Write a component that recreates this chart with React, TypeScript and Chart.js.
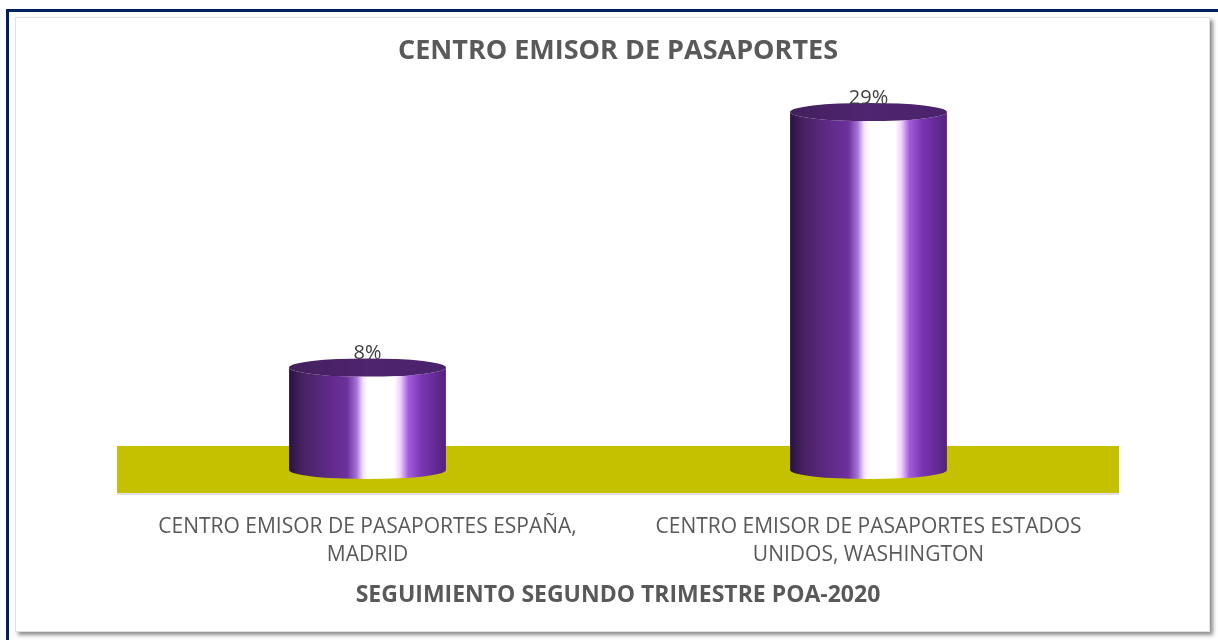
import React, { useEffect, useRef } from "react";
import { Chart, registerables } from "chart.js";

Chart.register(...registerables);

const chartTitle = "CENTRO EMISOR DE PASAPORTES";
const axisTitle = "SEGUIMIENTO SEGUNDO TRIMESTRE POA-2020";
const categories: string[][] = [
  ["CENTRO EMISOR DE PASAPORTES ESPAÑA,", "MADRID"],
  ["CENTRO EMISOR DE PASAPORTES ESTADOS", "UNIDOS, WASHINGTON"],
];
const values: number[] = [8.3, 29];
const valueLabels: string[] = ["8%", "29%"];

const FONT = "'Open Sans', sans-serif";

const cylinderPlugin = {
  id: "cylinders",
  beforeDatasetsDraw(chart: any) {
    const { ctx, chartArea } = chart;
    const yz = chart.scales.y.getPixelForValue(0);
    ctx.save();
    ctx.fillStyle = "rgba(0,0,0,0.12)";
    ctx.fillRect(chartArea.left, yz + 23, chartArea.right - chartArea.left, 2);
    ctx.fillStyle = "#c4c100";
    ctx.fillRect(chartArea.left, yz - 24, chartArea.right - chartArea.left, 47);
    ctx.restore();
  },
  afterDatasetsDraw(chart: any) {
    const { ctx } = chart;
    const meta = chart.getDatasetMeta(0);
    meta.data.forEach((bar: any, i: number) => {
      const { x, y, base, width } = bar.getProps(["x", "y", "base", "width"], true);
      const left = x - width / 2;
      const right = x + width / 2;
      const rx = width / 2;
      const ry = width * 0.058;
      ctx.save();
      const g = ctx.createLinearGradient(left, 0, right, 0);
      g.addColorStop(0, "#2a1342");
      g.addColorStop(0.08, "#47215f");
      g.addColorStop(0.25, "#5e2a88");
      g.addColorStop(0.37, "#6d309c");
      g.addColorStop(0.43, "#a373d6");
      g.addColorStop(0.47, "#f2dcff");
      g.addColorStop(0.5, "#ffffff");
      g.addColorStop(0.67, "#ffffff");
      g.addColorStop(0.71, "#f0cfff");
      g.addColorStop(0.76, "#a35ddb");
      g.addColorStop(0.84, "#7a36b4");
      g.addColorStop(1, "#55217e");
      ctx.beginPath();
      ctx.moveTo(left, y);
      ctx.lineTo(left, base);
      ctx.ellipse(x, base, rx, ry, 0, Math.PI, 0, true);
      ctx.lineTo(right, y);
      ctx.ellipse(x, y, rx, ry, 0, 0, Math.PI, false);
      ctx.closePath();
      ctx.fillStyle = g;
      ctx.fill();
      const tg = ctx.createLinearGradient(left, 0, right, 0);
      tg.addColorStop(0, "#42205c");
      tg.addColorStop(0.5, "#4f2470");
      tg.addColorStop(1, "#4a226a");
      ctx.beginPath();
      ctx.ellipse(x, y, rx, ry, 0, 0, Math.PI * 2);
      ctx.fillStyle = tg;
      ctx.fill();
      ctx.font = `20px ${FONT}`;
      ctx.fillStyle = "#404040";
      ctx.textAlign = "center";
      ctx.textBaseline = "alphabetic";
      ctx.fillText(valueLabels[i], x, y - ry + 1);
      ctx.restore();
    });
  },
};

export default function App() {
  const ref = useRef<HTMLCanvasElement | null>(null);
  useEffect(() => {
    if (!ref.current) return;
    const chart = new Chart(ref.current, {
      type: "bar",
      data: {
        labels: categories,
        datasets: [
          {
            data: values,
            backgroundColor: "rgba(0,0,0,0)",
            borderWidth: 0,
            barPercentage: 0.313,
            categoryPercentage: 1,
          },
        ],
      },
      options: {
        responsive: false,
        animation: false,
        layout: { padding: { left: 117, right: 99, top: 35, bottom: 31 } },
        plugins: {
          legend: { display: false },
          tooltip: { enabled: false },
          title: {
            display: true,
            text: chartTitle,
            color: "#595959",
            font: { family: FONT, size: 27, weight: "bold" },
            padding: { top: 0, bottom: 13 },
          },
        },
        scales: {
          y: { display: false, min: -1.9, max: 31.56 },
          x: {
            grid: { display: false, drawTicks: false },
            border: { display: false },
            ticks: {
              color: "#595959",
              font: { family: FONT, size: 21, lineHeight: 1.333 },
              padding: 20,
              maxRotation: 0,
              autoSkip: false,
            },
            title: {
              display: true,
              text: axisTitle,
              color: "#595959",
              font: { family: FONT, size: 23, weight: "bold" },
              padding: { top: -8, bottom: 0 },
            },
          },
        },
      },
      plugins: [cylinderPlugin],
    });
    return () => chart.destroy();
  }, []);

  return (
    <div
      style={{
        position: "fixed",
        left: 0,
        top: 0,
        width: 1218,
        height: 640,
        overflow: "hidden",
        background: "#ffffff",
      }}
    >
      <div
        style={{
          position: "absolute",
          left: 6,
          top: 9,
          width: 1300,
          height: 700,
          border: "3px solid #002060",
          boxSizing: "border-box",
        }}
      />
      <div
        style={{
          position: "absolute",
          left: 15,
          top: 17,
          width: 1195,
          height: 615,
          border: "1px solid #e2e2e2",
          boxSizing: "border-box",
          background: "#ffffff",
          boxShadow: "3px 3px 4px rgba(0,0,0,0.45)",
        }}
      />
      <canvas
        ref={ref}
        width={1218}
        height={640}
        style={{ position: "absolute", left: 0, top: 0, width: 1218, height: 640 }}
      />
    </div>
  );
}
